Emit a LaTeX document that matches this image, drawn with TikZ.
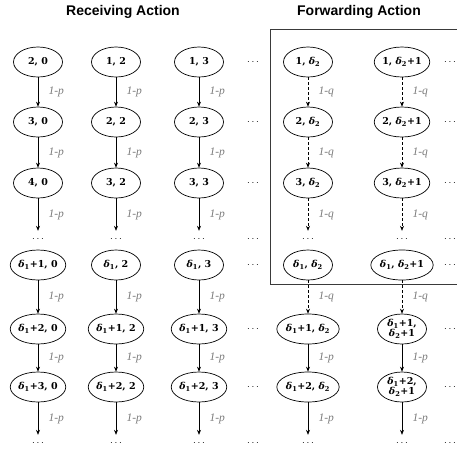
\documentclass[tikz,border=0pt]{standalone}
\usepackage{fontspec}
\setmainfont{DejaVu Serif}
\newfontfamily\titlefont{Liberation Sans}
\newfontfamily\lblfont{Liberation Serif}
\usetikzlibrary{shapes.geometric,arrows.meta}
\newcommand{\dlA}{{\itshape δ}\textsubscript{1}}
\newcommand{\dlB}{{\itshape δ}\textsubscript{2}}
\definecolor{lblgray}{HTML}{7A7A7A}
\definecolor{boxgray}{HTML}{3A3A3A}
\tikzset{
  state/.style={ellipse, draw, line width=0.7pt, minimum width=49pt, minimum height=30pt, inner sep=0pt, align=center, font=\fontsize{9.5}{10}\selectfont\bfseries},
  dotsn/.style={inner sep=0pt, minimum height=16pt, font=\fontsize{10}{11}\selectfont},
  arr/.style={-{Stealth[length=5pt,width=4pt]}, line width=0.6pt},
  darr/.style={arr, dashed, dash pattern=on 3pt off 2pt},
  lbl/.style={midway, right=7pt, text=lblgray, font=\lblfont\itshape\fontsize{11.5}{12}\selectfont},
  ttl/.style={font=\titlefont\bfseries\fontsize{14}{16}\selectfont}
}
\begin{document}
\begin{tikzpicture}[x=1pt,y=-1pt]
\useasboundingbox (0,0) rectangle (457,451);
% titles
\node[ttl] (t1) at (123,12) {Receiving Action};
\node[ttl] (t2) at (359,12) {Forwarding Action};
% box
\draw[boxgray, line width=0.8pt] (457,29) -- (270,29) -- (270,284) -- (457,284);
% column 1
\node[state] (a1) at (38,62) {2, 0};
\node[state] (a2) at (38,122) {3, 0};
\node[state] (a3) at (38,183) {4, 0};
\node[dotsn] (ad) at (38,239) {$\cdots$};
\node[state] (a4) at (38,265) {\dlA+1, 0};
\node[state] (a5) at (38,329) {\dlA+2, 0};
\node[state] (a6) at (38,387) {\dlA+3, 0};
\node[dotsn] (ab) at (38,443) {$\cdots$};
% column 2
\node[state] (b1) at (116,62) {1, 2};
\node[state] (b2) at (116,122) {2, 2};
\node[state] (b3) at (116,183) {3, 2};
\node[dotsn] (bd) at (116,239) {$\cdots$};
\node[state] (b4) at (116,265) {\dlA, 2};
\node[state] (b5) at (116,329) {\dlA+1, 2};
\node[state] (b6) at (116,387) {\dlA+2, 2};
\node[dotsn] (bb) at (116,443) {$\cdots$};
% column 3
\node[state] (c1) at (199,62) {1, 3};
\node[state] (c2) at (199,122) {2, 3};
\node[state] (c3) at (199,183) {3, 3};
\node[dotsn] (cd) at (199,239) {$\cdots$};
\node[state] (c4) at (199,265) {\dlA, 3};
\node[state] (c5) at (199,329) {\dlA+1, 3};
\node[state] (c6) at (199,387) {\dlA+2, 3};
\node[dotsn] (cb) at (199,443) {$\cdots$};
% column 5
\node[state] (e1) at (308,62) {1, \dlB};
\node[state] (e2) at (308,122) {2, \dlB};
\node[state] (e3) at (308,183) {3, \dlB};
\node[dotsn] (ed) at (308,239) {$\cdots$};
\node[state] (e4) at (308,265) {\dlA, \dlB};
\node[state] (e5) at (308,329) {\dlA+1, \dlB};
\node[state] (e6) at (308,387) {\dlA+2, \dlB};
\node[dotsn] (eb) at (308,443) {$\cdots$};
% column 6
\node[state] (f1) at (402,62) {1, \dlB+1};
\node[state] (f2) at (402,122) {2, \dlB+1};
\node[state] (f3) at (402,183) {3, \dlB+1};
\node[dotsn] (fd) at (402,239) {$\cdots$};
\node[state] (f4) at (402,265) {\dlA, \dlB+1};
\node[state] (f5) at (402,329) {\dlA+1,\\\dlB+1};
\node[state] (f6) at (402,387) {\dlA+2,\\\dlB+1};
\node[dotsn] (fb) at (402,443) {$\cdots$};
% dots columns
\foreach \n/\y in {1/62,2/122,3/183,d/239,4/265,5/329,6/387,b/443} {
  \node[dotsn] (g\n) at (253,\y) {$\cdots$};
  \node[dotsn] (h\n) at (450,\y) {$\cdots$};
}
% receiving arrows
\foreach \c in {a,b,c} {
  \draw[arr] (\c1) -- node[lbl]{1-p} (\c2);
  \draw[arr] (\c2) -- node[lbl]{1-p} (\c3);
  \draw[arr] (\c3) -- node[lbl]{1-p} (\c d);
  \draw[arr] (\c4) -- node[lbl]{1-p} (\c5);
  \draw[arr] (\c5) -- node[lbl]{1-p} (\c6);
  \draw[arr] (\c6) -- node[lbl]{1-p} (\c b);
}
% forwarding arrows
\foreach \c in {e,f} {
  \draw[darr] (\c1) -- node[lbl]{1-q} (\c2);
  \draw[darr] (\c2) -- node[lbl]{1-q} (\c3);
  \draw[darr] (\c3) -- node[lbl]{1-q} (\c d);
  \draw[darr] (\c4) -- node[lbl]{1-q} (\c5);
  \draw[arr] (\c5) -- node[lbl]{1-p} (\c6);
  \draw[arr] (\c6) -- node[lbl]{1-p} (\c b);
}
\end{tikzpicture}
\end{document}
